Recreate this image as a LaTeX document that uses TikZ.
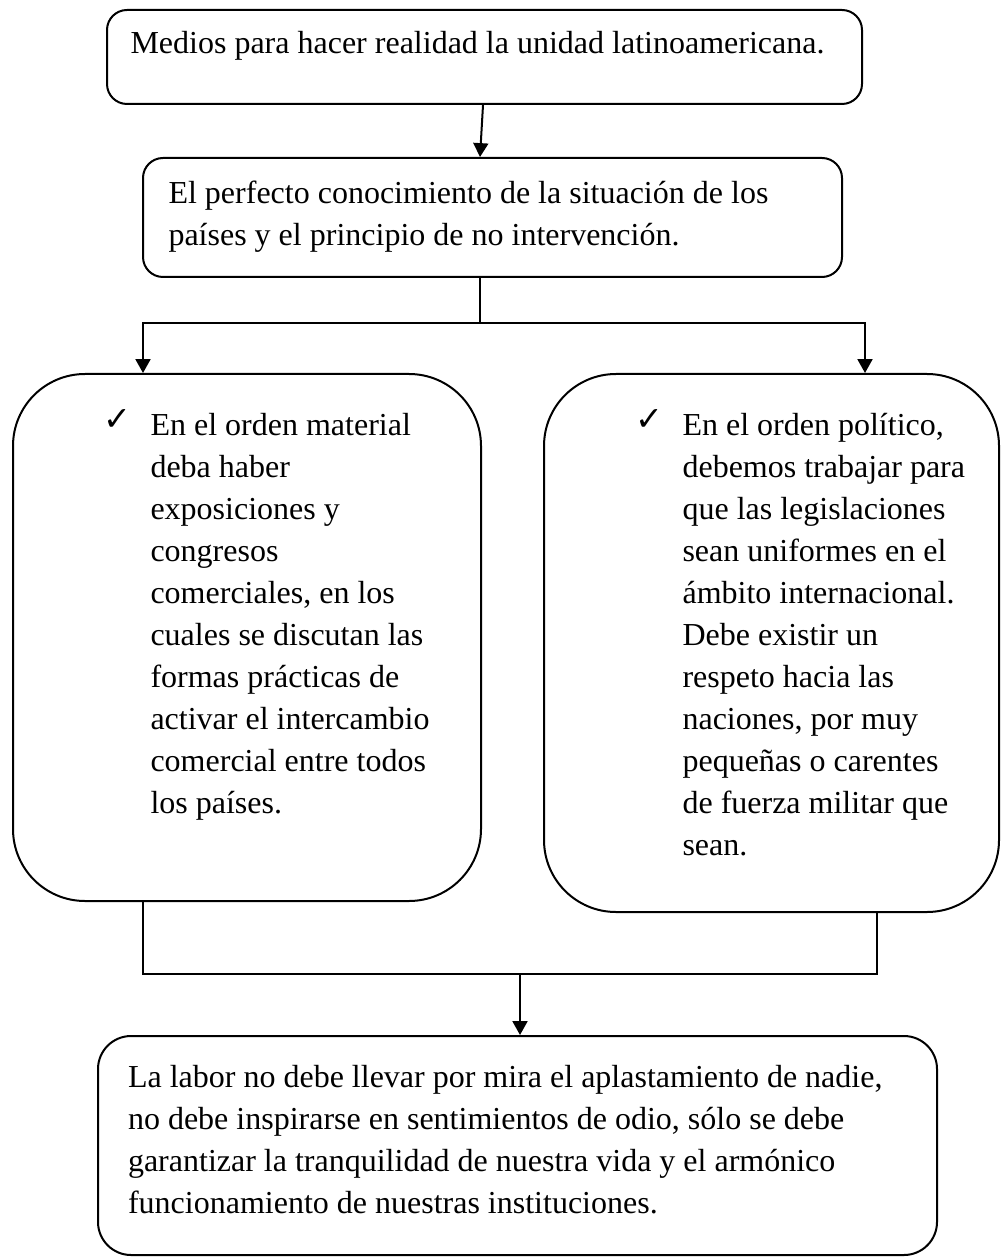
\documentclass[tikz,border=0pt]{standalone}
\usepackage{fontspec}
\setmainfont{Liberation Serif}
\newfontfamily\symfont{DejaVu Sans}
\usetikzlibrary{fit,arrows.meta}
\newcommand{\boxstrut}{\rule{0pt}{10pt}}
\tikzset{
  box/.style={draw, line width=0.75pt, inner sep=0pt},
  txt/.style={anchor=north west, inner sep=0pt, align=left, font=\fontsize{12}{15.75}\selectfont},
  tick/.style={anchor=base west, inner sep=0pt, font=\symfont\fontsize{12.5}{14}\selectfont},
  arr/.style={line width=0.75pt, -{Triangle[length=5.2pt,width=5.6pt]}},
  line/.style={line width=0.75pt}
}
\begin{document}
\begin{tikzpicture}[x=0.375pt,y=-0.375pt]
  \useasboundingbox (0,0) rectangle (1000,1257);
  \node[box, rounded corners=7.5pt, fit={(107,10) (862,104)}] (top) {};
  \node[box, rounded corners=7.5pt, fit={(143,158) (842,277)}] (mid) {};
  \node[box, rounded corners=27pt, fit={(13,374) (481,901)}] (left) {};
  \node[box, rounded corners=27pt, fit={(544,374) (999,912)}] (right) {};
  \node[box, rounded corners=12.4pt, fit={(98,1036) (937,1255)}] (bottom) {};

  \node[txt] (toptext) at (130,26.3) {\boxstrut Medios para hacer realidad la unidad latinoamericana.};
  \node[txt] (midtext) at (168,176.3) {\boxstrut El perfecto conocimiento de la situación de los\\
    países y el principio de no intervención.};
  \node[tick] (lefttick) at (103,431) {✓};
  \node[txt] (lefttext) at (150,408.3) {\boxstrut En el orden material\\ deba haber\\ exposiciones y\\
    congresos\\ comerciales, en los\\ cuales se discutan las\\ formas prácticas de\\
    activar el intercambio\\ comercial entre todos\\ los países.};
  \node[tick] (righttick) at (635,431) {✓};
  \node[txt] (righttext) at (682,408.3) {\boxstrut En el orden político,\\ debemos trabajar para\\
    que las legislaciones\\ sean uniformes en el\\ ámbito internacional.\\ Debe existir un\\
    respeto hacia las\\ naciones, por muy\\ pequeñas o carentes\\ de fuerza militar que\\ sean.};
  \node[txt] (bottomtext) at (127.5,1059.8) {\boxstrut La labor no debe llevar por mira el aplastamiento de nadie,\\
    no debe inspirarse en sentimientos de odio, sólo se debe\\
    garantizar la tranquilidad de nuestra vida y el armónico\\
    funcionamiento de nuestras instituciones.};

  \draw[arr] ([xshift=-0.56pt]top.south) -- ([xshift=-4.69pt]mid.north);
  \draw[line] ([xshift=-4.69pt]mid.south) -- ++(0,45) coordinate (split);
  \draw[arr] (split) -| ([xshift=-39pt]left.north);
  \draw[arr] (split) -| ([xshift=35.06pt]right.north);
  \coordinate (join) at (520,974);
  \draw[line] ([xshift=-39pt]left.south) |- (join) -| ([xshift=39.56pt]right.south);
  \draw[arr] (join) -- (join |- bottom.north);
\end{tikzpicture}
\end{document}
